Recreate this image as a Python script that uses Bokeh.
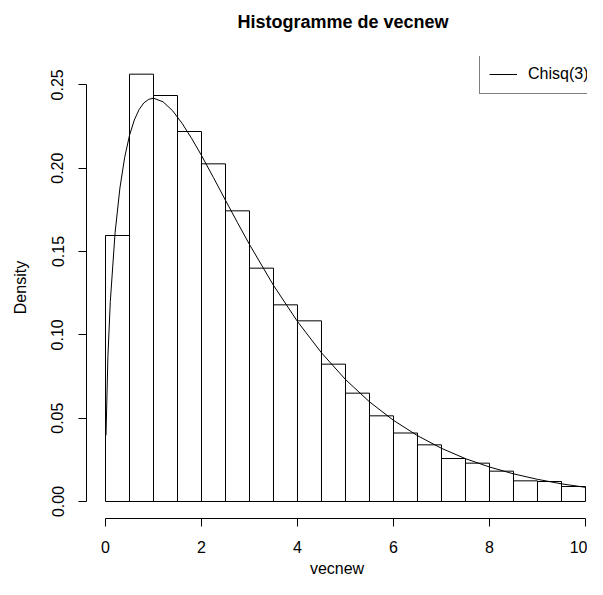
from bokeh.plotting import figure
from bokeh.models import FixedTicker, NumeralTickFormatter, Range1d
from bokeh.embed import file_html
from bokeh.resources import INLINE

# Histogram: bin edges and densities
bin_left = [0.0, 0.5, 1.0, 1.5, 2.0, 2.5, 3.0, 3.5, 4.0, 4.5,
            5.0, 5.5, 6.0, 6.5, 7.0, 7.5, 8.0, 8.5, 9.0, 9.5]
bin_right = [0.5, 1.0, 1.5, 2.0, 2.5, 3.0, 3.5, 4.0, 4.5, 5.0,
             5.5, 6.0, 6.5, 7.0, 7.5, 8.0, 8.5, 9.0, 9.5, 10.0]
density = [0.1596, 0.2564, 0.2436, 0.2220, 0.2026, 0.1744, 0.1400, 0.1180, 0.1084, 0.0824,
           0.0650, 0.0514, 0.0411, 0.0340, 0.0258, 0.0230, 0.0182, 0.0124, 0.0120, 0.0090]

# Chisq(3) curve, points
curve_x = [0.01, 0.05, 0.1, 0.2, 0.3, 0.4, 0.5, 0.6, 0.7, 0.8, 0.9, 1.0,
           1.2, 1.4, 1.6, 1.8, 2.0, 2.25, 2.5, 2.75, 3.0, 3.5, 4.0, 4.5,
           5.0, 5.5, 6.0, 6.5, 7.0, 7.5, 8.0, 8.5, 9.0, 9.5, 10.0]
curve_y = [0.0397, 0.0870, 0.1200, 0.1614, 0.1881, 0.2066, 0.2197, 0.2289, 0.2352, 0.2392, 0.2413, 0.2420,
           0.2398, 0.2344, 0.2267, 0.2176, 0.2076, 0.1943, 0.1807, 0.1673, 0.1542, 0.1297, 0.1080, 0.0892,
           0.0732, 0.0598, 0.0487, 0.0395, 0.0319, 0.0257, 0.0207, 0.0166, 0.0133, 0.0106, 0.0085]

x_ticks = [0, 2, 4, 6, 8, 10]
y_ticks = [0.0, 0.05, 0.10, 0.15, 0.20, 0.25]

FONT = "Liberation Sans"

p = figure(width=587, height=579, output_backend="svg", toolbar_location=None,
           x_range=Range1d(-0.396, 10.042), y_range=Range1d(-0.0102, 0.267),
           min_border_left=86, min_border_right=0, min_border_top=56, min_border_bottom=61,
           title="Histogramme de vecnew\n")

p.quad(left=bin_left, right=bin_right, top=density, bottom=0,
       fill_color=None, line_color="black", line_width=1)
p.line(curve_x, curve_y, line_color="black", line_width=1, legend_label="Chisq(3)")

p.grid.visible = False
p.outline_line_color = None
p.background_fill_color = "white"
p.border_fill_color = "white"

p.title.text_font = FONT
p.title.text_font_size = "18px"
p.title.text_font_style = "bold"
p.title.text_color = "black"
p.title.align = "left"
p.title.offset = 151
p.title.vertical_align = "top"
p.title.standoff = 6

for ax in (p.xaxis[0], p.yaxis[0]):
    ax.axis_line_color = "black"
    ax.major_tick_line_color = "black"
    ax.minor_tick_line_color = None
    ax.major_tick_in = 0
    ax.major_tick_out = 8
    ax.major_label_text_font = FONT
    ax.major_label_text_font_size = "16px"
    ax.major_label_text_color = "black"
    ax.axis_label_text_font = FONT
    ax.axis_label_text_font_size = "16px"
    ax.axis_label_text_font_style = "normal"
    ax.axis_label_text_color = "black"

p.xaxis[0].ticker = FixedTicker(ticks=x_ticks)
p.xaxis[0].bounds = (0, 10)
p.xaxis[0].axis_label = "vecnew"
p.xaxis[0].major_label_standoff = 14
p.xaxis[0].axis_label_standoff = 4

p.yaxis[0].ticker = FixedTicker(ticks=y_ticks)
p.yaxis[0].formatter = NumeralTickFormatter(format="0.00")
p.yaxis[0].bounds = (0, 0.25)
p.yaxis[0].axis_label = "Density"
p.yaxis[0].major_label_orientation = "vertical"
p.yaxis[0].major_label_standoff = 15
p.yaxis[0].axis_label_standoff = 20

leg = p.legend[0]
leg.location = (393, 424)
leg.label_text_font = FONT
leg.label_text_font_size = "16px"
leg.label_text_color = "black"
leg.glyph_width = 28
leg.label_standoff = 11
leg.padding = 9
leg.margin = 0
leg.spacing = 0
leg.border_line_color = "black"
leg.border_line_width = 1
leg.background_fill_color = "white"
leg.background_fill_alpha = 1.0

open("out.html", "w").write(file_html(p, INLINE))
